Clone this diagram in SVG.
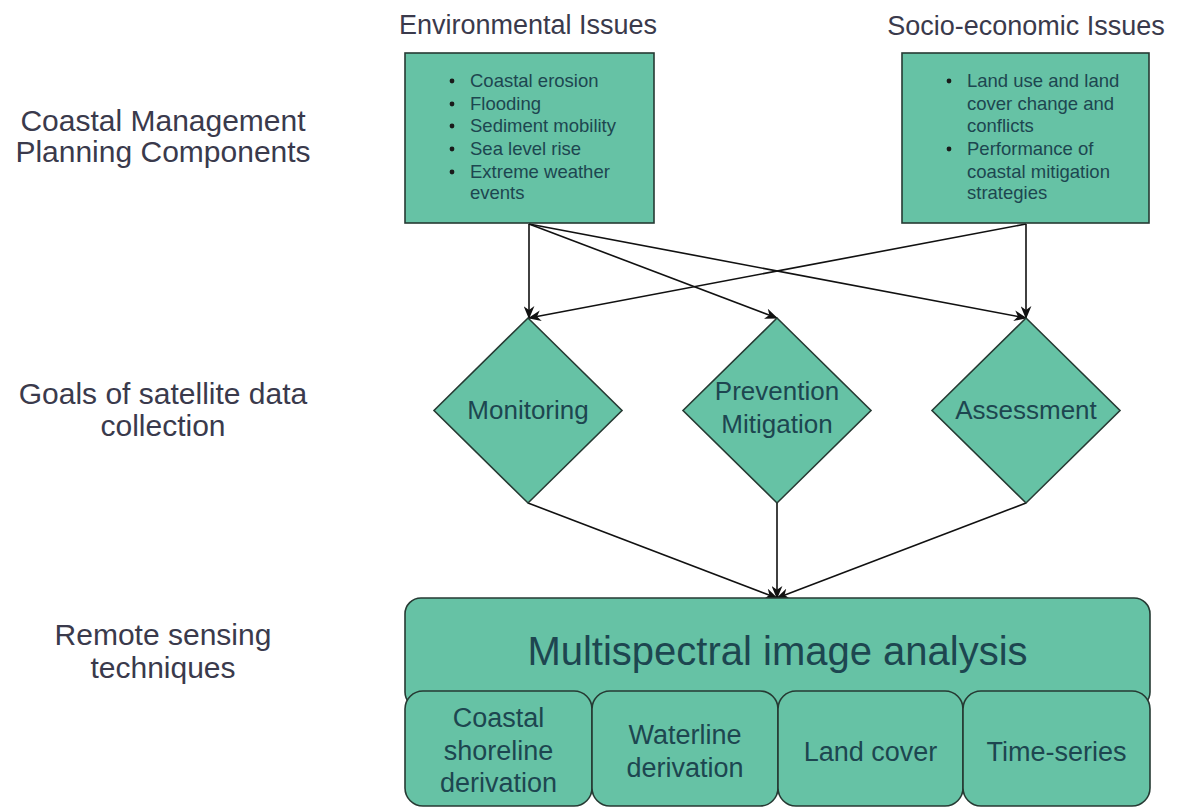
<svg xmlns="http://www.w3.org/2000/svg" width="1180" height="811" viewBox="0 0 1180 811">
<defs>
<style>
.lbl{font-family:"Liberation Sans",Arial,sans-serif;fill:#3a3a4c;text-anchor:middle}
.side{font-size:30px}
.hdr{font-size:27px}
.box{fill:#66c2a5;stroke:#263a33;stroke-width:1.6}
.ntxt{font-family:"Liberation Sans",Arial,sans-serif;fill:#1d4650}
.bul{font-size:18.5px}
.mid{text-anchor:middle}
.conn{stroke:#111;stroke-width:1.6;fill:none;marker-end:url(#arr)}
</style>
<marker id="arr" viewBox="0 0 12 10" refX="11" refY="5" markerWidth="13" markerHeight="11" markerUnits="userSpaceOnUse" orient="auto">
<path d="M0,0 L12,5 L0,10 L3.5,5 Z" fill="#111"/>
</marker>
</defs>
<rect width="1180" height="811" fill="#fff"/>

<g id="side-labels">
<text class="lbl side" x="163" y="131">Coastal Management</text>
<text class="lbl side" x="163" y="162">Planning Components</text>
<text class="lbl side" x="163" y="404">Goals of satellite data</text>
<text class="lbl side" x="163" y="436">collection</text>
<text class="lbl side" x="163" y="645">Remote sensing</text>
<text class="lbl side" x="163" y="678">techniques</text>
</g>

<g id="headers">
<text class="lbl hdr" x="528" y="34">Environmental Issues</text>
<text class="lbl hdr" x="1026" y="35">Socio-economic Issues</text>
</g>

<g id="connectors">
<line class="conn" x1="529" y1="224" x2="529" y2="318"/>
<line class="conn" x1="529" y1="224" x2="777" y2="318"/>
<line class="conn" x1="529" y1="224" x2="1026" y2="318"/>
<line class="conn" x1="1026" y1="224" x2="1026" y2="318"/>
<line class="conn" x1="1026" y1="224" x2="529" y2="318"/>
<line class="conn" x1="528" y1="503" x2="777" y2="598"/>
<line class="conn" x1="777" y1="503" x2="777" y2="598"/>
<line class="conn" x1="1026" y1="503" x2="777" y2="598"/>
</g>

<g id="env-issues">
<rect class="box" x="405" y="53" width="249" height="170"/>
<g class="ntxt bul">
<circle cx="452" cy="81" r="2.4" fill="#1a1a1a"/>
<circle cx="452" cy="104" r="2.4" fill="#1a1a1a"/>
<circle cx="452" cy="126" r="2.4" fill="#1a1a1a"/>
<circle cx="452" cy="149" r="2.4" fill="#1a1a1a"/>
<circle cx="452" cy="172" r="2.4" fill="#1a1a1a"/>
<text x="470" y="87">Coastal erosion</text>
<text x="470" y="110">Flooding</text>
<text x="470" y="132">Sediment mobility</text>
<text x="470" y="155">Sea level rise</text>
<text x="470" y="178">Extreme weather</text>
<text x="470" y="199">events</text>
</g>
</g>

<g id="socio-issues">
<rect class="box" x="902" y="53" width="247" height="170"/>
<g class="ntxt bul">
<circle cx="949" cy="81" r="2.4" fill="#1a1a1a"/>
<circle cx="949" cy="149" r="2.4" fill="#1a1a1a"/>
<text x="967" y="87">Land use and land</text>
<text x="967" y="110">cover change and</text>
<text x="967" y="132">conflicts</text>
<text x="967" y="155">Performance of</text>
<text x="967" y="178">coastal mitigation</text>
<text x="967" y="199">strategies</text>
</g>
</g>

<g id="monitoring">
<polygon class="box" points="528,318 622,410.5 528,503 434,410.5"/>
<text class="ntxt mid" x="528" y="419" font-size="26">Monitoring</text>
</g>
<g id="prevention">
<polygon class="box" points="777,318 871,410.5 777,503 683,410.5"/>
<text class="ntxt mid" x="777" y="400" font-size="26">Prevention</text>
<text class="ntxt mid" x="777" y="433" font-size="26">Mitigation</text>
</g>
<g id="assessment">
<polygon class="box" points="1026,318 1120,410.5 1026,503 932,410.5"/>
<text class="ntxt mid" x="1026" y="419" font-size="26">Assessment</text>
</g>

<g id="multispectral">
<rect class="box" x="405" y="598" width="745" height="110" rx="16"/>
<text class="ntxt mid" x="777.5" y="665" font-size="40">Multispectral image analysis</text>
</g>
<g id="coastal-shoreline">
<rect class="box" x="405" y="691" width="187" height="115" rx="18"/>
<text class="ntxt mid" x="498.5" y="727" font-size="27">Coastal</text>
<text class="ntxt mid" x="498.5" y="760" font-size="27">shoreline</text>
<text class="ntxt mid" x="498.5" y="792" font-size="27">derivation</text>
</g>
<g id="waterline">
<rect class="box" x="592" y="691" width="186" height="115" rx="18"/>
<text class="ntxt mid" x="685" y="744" font-size="27">Waterline</text>
<text class="ntxt mid" x="685" y="777" font-size="27">derivation</text>
</g>
<g id="land-cover">
<rect class="box" x="778" y="691" width="185" height="115" rx="18"/>
<text class="ntxt mid" x="870.5" y="761" font-size="27">Land cover</text>
</g>
<g id="time-series">
<rect class="box" x="963" y="691" width="187" height="115" rx="18"/>
<text class="ntxt mid" x="1056.5" y="761" font-size="27">Time-series</text>
</g>
</svg>
